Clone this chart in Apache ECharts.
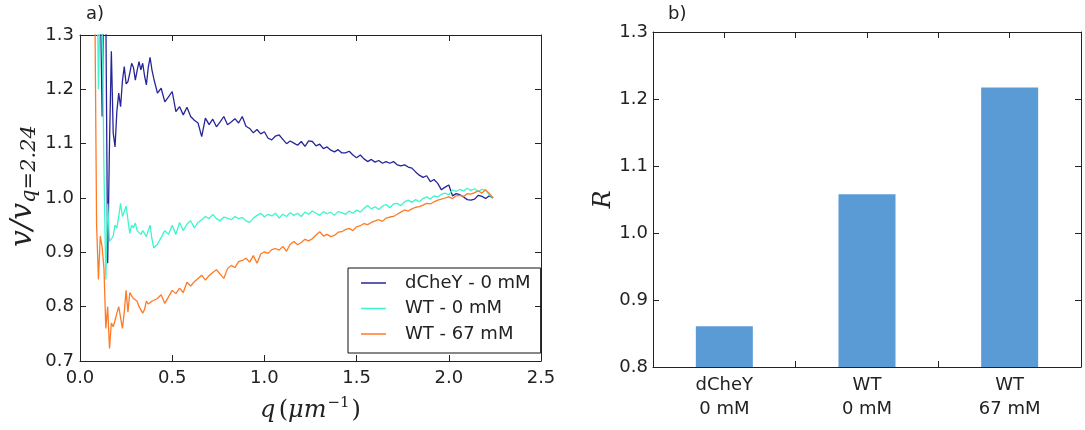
<!DOCTYPE html>
<html><head><meta charset="utf-8">
<script src="https://cdn.jsdelivr.net/npm/echarts@6/dist/echarts.min.js"></script>
<style>html,body{margin:0;padding:0;background:#fff}#c{width:1085px;height:430px}</style>
</head><body><div id="c"></div>
<script>
// q values (µm^-1)
const qValues = [
0.08,0.09,0.10,0.11,0.12,0.13,0.14,0.15,0.16,0.17,0.18,0.19,0.20,0.21,0.22,0.23,0.24,0.25,0.26,0.27,0.28,0.29,0.30,0.31,0.32,0.33,0.34,0.35,0.36,0.37,0.38,0.39,0.40,
0.42,0.44,0.46,0.48,0.50,0.52,0.54,0.56,0.58,0.60,
0.62,0.64,0.66,0.68,0.70,0.72,0.74,0.76,0.78,0.80,
0.82,0.84,0.86,0.88,0.90,0.92,0.94,0.96,0.98,1.00,
1.02,1.04,1.06,1.08,1.10,1.12,1.14,1.16,1.18,1.20,
1.22,1.24,1.26,1.28,1.30,1.32,1.34,1.36,1.38,1.40,
1.42,1.44,1.46,1.48,1.50,1.52,1.54,1.56,1.58,1.60,
1.62,1.64,1.66,1.68,1.70,1.72,1.74,1.76,1.78,1.80,
1.82,1.84,1.86,1.88,1.90,1.92,1.94,1.96,1.98,2.00,
2.02,2.04,2.06,2.08,2.10,2.12,2.14,2.16,2.18,2.20,
2.22,2.24];

const dCheY0 = [
1.70,1.55,1.45,1.38,1.15,1.42,1.35,0.88,1.10,1.27,1.12,1.094,1.16,1.193,1.168,1.215,1.242,1.21,1.214,1.23,1.248,1.24,1.217,1.235,1.251,1.236,1.248,1.225,1.208,1.24,1.259,1.236,1.22,
1.193,1.202,1.177,1.186,1.196,1.159,1.168,1.153,1.167,1.150,
1.143,1.138,1.113,1.147,1.135,1.145,1.131,1.140,1.150,1.135,
1.140,1.146,1.138,1.150,1.132,1.128,1.120,1.126,1.118,1.122,
1.110,1.107,1.114,1.116,1.108,1.100,1.105,1.101,1.097,1.104,
1.095,1.105,1.104,1.096,1.099,1.091,1.094,1.088,1.085,1.089,
1.083,1.083,1.086,1.079,1.074,1.079,1.072,1.067,1.071,1.066,
1.069,1.064,1.067,1.064,1.067,1.061,1.059,1.061,1.057,1.055,
1.048,1.042,1.038,1.041,1.030,1.034,1.027,1.015,1.020,1.024,
1.004,1.008,1.006,1.002,0.997,0.996,0.998,1.005,1.003,0.999,
1.004,1.000];

const wt0 = [
1.60,1.50,1.20,1.38,1.32,1.05,0.85,0.99,0.92,0.925,0.93,0.95,0.945,0.966,0.99,0.966,0.975,0.985,0.96,0.935,0.95,0.945,0.954,0.94,0.938,0.933,0.94,0.935,0.929,0.94,0.95,0.925,0.908,
0.915,0.927,0.940,0.933,0.950,0.933,0.955,0.940,0.952,0.958,
0.945,0.955,0.960,0.966,0.962,0.970,0.962,0.958,0.965,0.963,
0.960,0.966,0.962,0.964,0.958,0.955,0.963,0.968,0.972,0.965,
0.970,0.967,0.972,0.963,0.970,0.966,0.973,0.968,0.972,0.966,
0.974,0.970,0.976,0.972,0.968,0.975,0.971,0.974,0.968,0.975,
0.973,0.970,0.976,0.972,0.978,0.974,0.981,0.986,0.980,0.984,
0.979,0.985,0.988,0.982,0.989,0.990,0.986,0.993,0.996,0.992,
0.997,0.993,0.999,1.002,0.998,1.004,1.002,1.007,1.009,1.006,
1.015,1.012,1.016,1.013,1.018,1.014,1.017,1.012,1.016,1.014,
1.006,1.000];

const wt67 = [
1.38,0.95,0.85,0.93,0.91,0.87,0.76,0.80,0.723,0.77,0.763,0.775,0.788,0.80,0.78,0.76,0.79,0.83,0.79,0.826,0.82,0.815,0.812,0.81,0.80,0.797,0.788,0.795,0.81,0.805,0.805,0.81,0.808,
0.815,0.822,0.806,0.818,0.830,0.824,0.834,0.826,0.845,0.838,
0.846,0.852,0.858,0.849,0.857,0.863,0.868,0.860,0.852,0.870,
0.876,0.872,0.883,0.885,0.889,0.882,0.894,0.880,0.897,0.901,
0.898,0.905,0.907,0.904,0.911,0.902,0.915,0.920,0.914,0.918,
0.924,0.921,0.925,0.932,0.938,0.930,0.933,0.929,0.931,0.937,
0.938,0.942,0.944,0.940,0.947,0.949,0.953,0.951,0.955,0.958,
0.960,0.957,0.963,0.965,0.966,0.970,0.974,0.978,0.976,0.980,
0.983,0.984,0.987,0.990,0.989,0.993,0.996,0.998,1.000,1.002,
0.999,1.004,1.005,1.003,1.008,1.007,1.010,1.013,1.009,1.015,
1.008,1.000];

const seriesNames = ['dCheY - 0 mM', 'WT - 0 mM', 'WT - 67 mM'];
const seriesColors = ['#26269a', '#3ff5cc', '#ff7a26'];
const barCategories = ['dCheY\n0 mM', 'WT\n0 mM', 'WT\n67 mM'];
const barValues = [0.861, 1.058, 1.217];

const FONT = 'DejaVu Sans';
const INK = '#222';
const lineSets = [dCheY0, wt0, wt67];

const chart = echarts.init(document.getElementById('c'), null, {renderer: 'canvas'});

function frameAxis(extra) {
  return Object.assign({
    axisLine: {show: true, onZero: false, lineStyle: {color: INK, width: 1}},
    axisTick: {show: true, inside: true, length: 6, lineStyle: {color: INK}},
    axisLabel: {show: false},
    splitLine: {show: false}
  }, extra);
}
const lbl = {show: true, fontFamily: FONT, fontSize: 18, color: INK};

const option = {
  animation: false,
  backgroundColor: '#fff',
  grid: [
    {left: 80, top: 35, width: 461, height: 326},
    {left: 653, top: 32, width: 428, height: 335}
  ],
  graphic: [
    {type: 'text', left: 86, top: 5, style: {text: 'a)', font: '18px "DejaVu Sans"', fill: INK}},
    {type: 'text', left: 668, top: 5, style: {text: 'b)', font: '18px "DejaVu Sans"', fill: INK}}
  ],
  legend: {
    left: 348, top: 268, orient: 'vertical',
    data: seriesNames,
    selectedMode: false,
    icon: 'rect',
    itemWidth: 25, itemHeight: 1.5, itemGap: 5.5,
    padding: [5, 10, 9, 13],
    borderColor: '#111', borderWidth: 1,
    textStyle: {fontFamily: FONT, fontSize: 18, color: INK, lineHeight: 20, padding: [0, 0, 0, 14]}
  },
  xAxis: [
    frameAxis({gridIndex: 0, type: 'value', position: 'bottom', min: 0, max: 2.5, interval: 0.5,
      axisLabel: Object.assign({}, lbl, {margin: 8, formatter: v => v.toFixed(1)}),
      name: '{i|q} {r|(}{i|μm}{sup|−1}{r|)}', nameLocation: 'middle', nameGap: 35,
      nameTextStyle: {rich: {
        i: {fontFamily: 'DejaVu Serif', fontStyle: 'italic', fontSize: 24, color: INK, lineHeight: 30},
        r: {fontFamily: 'DejaVu Serif', fontSize: 24, color: INK, lineHeight: 30},
        sup: {fontFamily: 'DejaVu Serif', fontSize: 15, color: INK, lineHeight: 30, verticalAlign: 'top', padding: [0, 2, 0, 1]}
      }}
    }),
    frameAxis({gridIndex: 0, type: 'value', position: 'top', min: 0, max: 2.5, interval: 0.5}),
    frameAxis({gridIndex: 1, type: 'value', position: 'bottom', min: -0.5, max: 2.5, interval: 0.5,
      axisLabel: Object.assign({}, lbl, {margin: 6, lineHeight: 24,
        formatter: v => Math.abs(v - Math.round(v)) < 1e-6 && barCategories[Math.round(v)] ? barCategories[Math.round(v)] : ''})
    }),
    frameAxis({gridIndex: 1, type: 'value', position: 'top', min: -0.5, max: 2.5, interval: 0.5})
  ],
  yAxis: [
    frameAxis({gridIndex: 0, type: 'value', position: 'left', min: 0.7, max: 1.3, interval: 0.1,
      axisLabel: Object.assign({}, lbl, {margin: 6, formatter: v => v.toFixed(1)}),
      name: '{i|v/v}{s|q=2.24}', nameLocation: 'middle', nameGap: 40, nameRotate: 90,
      nameTextStyle: {padding: [0, 0, 0, 24], rich: {
        i: {fontFamily: 'DejaVu Serif', fontStyle: 'italic', fontSize: 30, color: INK, lineHeight: 34},
        s: {fontFamily: 'DejaVu Serif', fontStyle: 'italic', fontSize: 21, color: INK, lineHeight: 34, verticalAlign: 'bottom'}
      }}
    }),
    frameAxis({gridIndex: 0, type: 'value', position: 'right', min: 0.7, max: 1.3, interval: 0.1}),
    frameAxis({gridIndex: 1, type: 'value', position: 'left', min: 0.8, max: 1.3, interval: 0.1,
      axisLabel: Object.assign({}, lbl, {margin: 5, formatter: v => v.toFixed(1)}),
      name: 'R', nameLocation: 'middle', nameGap: 36, nameRotate: 90,
      nameTextStyle: {fontFamily: 'DejaVu Serif', fontStyle: 'italic', fontSize: 24, color: INK}
    }),
    frameAxis({gridIndex: 1, type: 'value', position: 'right', min: 0.8, max: 1.3, interval: 0.1})
  ],
  series: lineSets.map((vals, k) => ({
    type: 'line', name: seriesNames[k], xAxisIndex: 0, yAxisIndex: 0,
    data: qValues.map((q, i) => [q, vals[i]]),
    symbol: 'none', clip: true,
    lineStyle: {color: seriesColors[k], width: 1.3},
    itemStyle: {color: seriesColors[k]}
  })).concat([{
    type: 'bar', name: 'R', xAxisIndex: 2, yAxisIndex: 2,
    data: barValues.map((v, i) => [i, v]),
    barWidth: 57,
    itemStyle: {color: '#5b9bd5'}
  }])
};
chart.setOption(option);
</script>
</body></html>
